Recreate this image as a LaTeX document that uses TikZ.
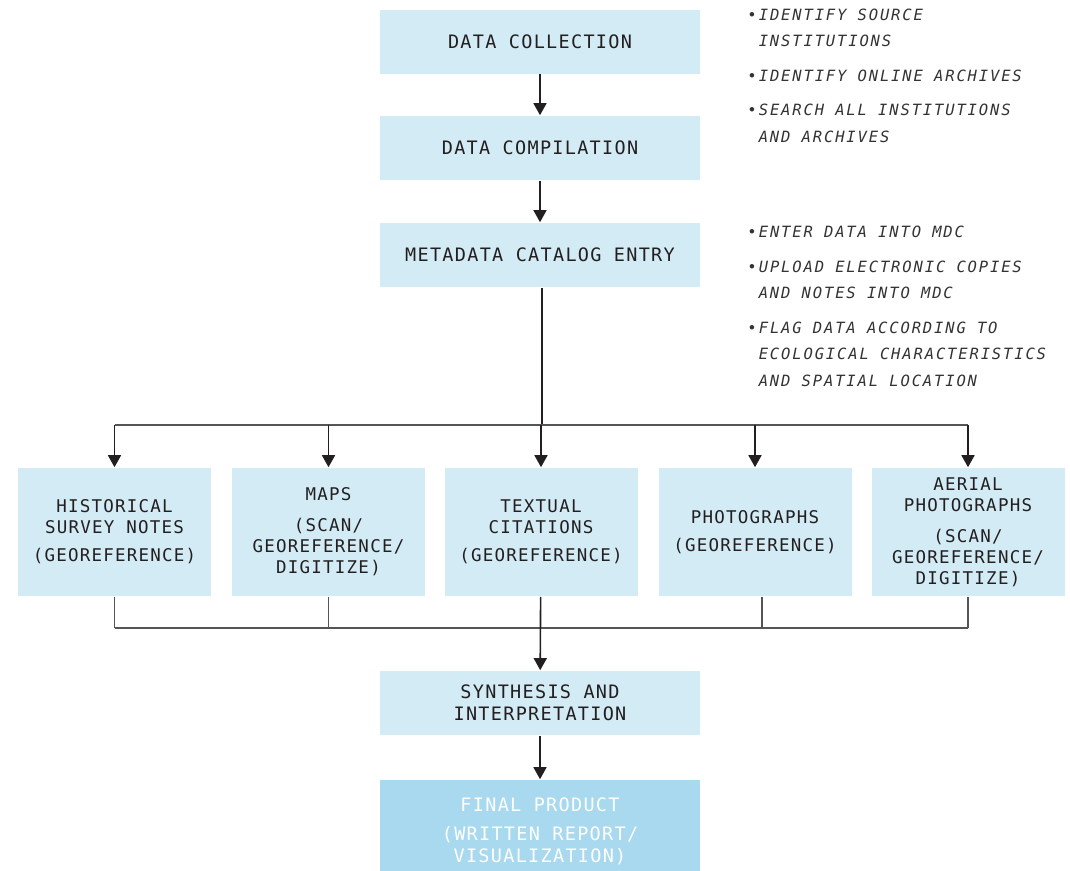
\documentclass[tikz,border=0pt]{standalone}
\usepackage{fontspec}
\newfontfamily\boxfont[LetterSpace=7]{DejaVu Sans Mono}
\newfontfamily\notefont[LetterSpace=12]{DejaVu Sans Mono Oblique}
\usetikzlibrary{arrows.meta}
\definecolor{boxblue}{HTML}{D3EBF5}
\definecolor{finalblue}{HTML}{A8D9EE}
\definecolor{ink}{HTML}{231F20}
\definecolor{busgray}{HTML}{555555}
\definecolor{notegray}{HTML}{333333}
\begin{document}
\begin{tikzpicture}[x=1pt,y=-1pt,line width=1.6pt,>={Triangle[length=12pt,width=13pt]},
    stage/.style={fill=boxblue,text=ink,inner sep=0pt,minimum width=320pt,minimum height=64pt,
      align=center,font=\boxfont\fontsize{18.5}{22}\selectfont},
    source/.style={stage,minimum width=193pt,minimum height=128pt,font=\boxfont\fontsize{17.5}{21}\selectfont},
    note/.style={anchor=base west,inner sep=0pt,align=left,text=notegray,
      font=\notefont\fontsize{15.5}{26.5}\selectfont}]
    \useasboundingbox(0,0)rectangle(1070,870);
    % main column
    \node[stage](collect)at(540,41.5){DATA COLLECTION};
    \node[stage](compile)at(540,148){DATA COMPILATION};
    \node[stage](meta)at(540,255){METADATA CATALOG ENTRY};
    \node[stage](synth)at(540,703){SYNTHESIS AND\\INTERPRETATION};
    \node[stage,fill=finalblue,text=white,minimum height=102pt](final)at(540,831)
      {FINAL PRODUCT\\[7pt](WRITTEN REPORT/\\VISUALIZATION)};
    % source types
    \node[source](hist)at(114.5,532){HISTORICAL\\SURVEY NOTES\\[7pt](GEOREFERENCE)};
    \node[source](maps)at(328.5,532){MAPS\\[10pt](SCAN/\\GEOREFERENCE/\\DIGITIZE)};
    \node[source](cite)at(541,532){TEXTUAL\\CITATIONS\\[7pt](GEOREFERENCE)};
    \node[source](photo)at(755,532){PHOTOGRAPHS\\[7pt](GEOREFERENCE)};
    \node[source](aerial)at(968,532){AERIAL\\PHOTOGRAPHS\\[10pt](SCAN/\\GEOREFERENCE/\\DIGITIZE)};
    % notes (anchored on the last line)
    \node[note](n1)at(758,46.5){\llap{•\kern2pt}IDENTIFY SOURCE\\INSTITUTIONS};
    \node[note](n2)at(758,81){\llap{•\kern2pt}IDENTIFY ONLINE ARCHIVES};
    \node[note](n3)at(758,142){\llap{•\kern2pt}SEARCH ALL INSTITUTIONS\\AND ARCHIVES};
    \node[note](n4)at(758,237){\llap{•\kern2pt}ENTER DATA INTO MDC};
    \node[note](n5)at(758,298.5){\llap{•\kern2pt}UPLOAD ELECTRONIC COPIES\\AND NOTES INTO MDC};
    \node[note](n6)at(758,386){\llap{•\kern2pt}FLAG DATA ACCORDING TO\\ECOLOGICAL CHARACTERISTICS\\AND SPATIAL LOCATION};
    % connectors
    \coordinate(split)at(542,425);\coordinate(merge)at(542,628);
    \draw[->,ink](collect)--(compile);
    \draw[->,ink](compile)--(meta);
    \draw[ink](meta.south-|split)--(split);
    \draw[busgray](hist.north|-split)--(aerial.north|-split);
    \foreach \n in {hist,maps,cite,photo,aerial}\draw[->,ink](\n.north|-split)--(\n);
    \foreach \n in {hist,maps,aerial}\draw[busgray](\n)--(\n.south|-merge);
    \draw[busgray]([xshift=7pt]photo.south)--([xshift=7pt]photo.south|-merge);
    \draw[busgray](hist.south|-merge)--(aerial.south|-merge);
    \draw[->,ink](cite)--(synth);
    \draw[->,ink](synth)--(final);
\end{tikzpicture}
\end{document}
